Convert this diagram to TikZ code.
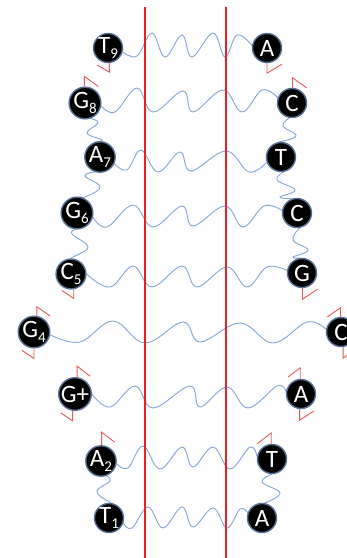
\documentclass[tikz,border=0pt]{standalone}
\usepackage{fontspec}
\setmainfont{Carlito}
\usetikzlibrary{backgrounds}
\definecolor{wavecol}{RGB}{130,165,212}
\definecolor{stubred}{RGB}{225,90,90}
\definecolor{axisred}{RGB}{240,30,30}
\definecolor{halo}{RGB}{85,110,145}
\newcommand{\nsub}[1]{{\fontsize{15}{15}\selectfont\raisebox{-5pt}{#1}}}
\tikzset{
  base/.style={circle, fill=black, draw=halo, line width=1.4pt, minimum size=29pt,
    inner sep=0pt, text=white, font=\fontsize{25}{25}\selectfont},
  wavy/.style={wavecol, line width=0.9pt},
  stub/.style={stubred, line width=0.9pt},
  axisline/.style={axisred, line width=1.6pt}
}
\begin{document}
\begin{tikzpicture}[x=1pt,y=-1pt]
\useasboundingbox (0,0) rectangle (347,558);
% left column
\node[base] (T9) at (108,48) {T\nsub{9}};
\node[base] (G8) at (85,103) {G\nsub{8}};
\node[base] (A7) at (100,157) {A\nsub{7}};
\node[base] (G6) at (77,213) {G\nsub{6}};
\node[base] (C5) at (71,274) {C\nsub{5}};
\node[base] (G4) at (34,332) {G\nsub{4}};
\node[base] (Gp) at (75,394) {G+};
\node[base] (A2) at (101,461) {A\nsub{2}};
\node[base] (T1) at (109,518) {T\nsub{1}};
% right column
\node[base] (rA9) at (267,48) {A};
\node[base] (rC8) at (292,103) {C};
\node[base] (rT7) at (281,157) {T};
\node[base] (rC6) at (297,213) {C};
\node[base] (rG5) at (302,273) {G};
\node[base] (rC4) at (341,332) {C};
\node[base] (rA3) at (301,394) {A};
\node[base] (rT2) at (272,459) {T};
\node[base] (rA1) at (262,518) {A};
\coordinate (ax1top) at (145,7);
\coordinate (ax1bot) at (145,558);
\coordinate (ax2top) at (226,7);
\coordinate (ax2bot) at (226,558);
\begin{scope}[on background layer]
% horizontal waves
\draw[wavy] plot[smooth, tension=0.65] coordinates {(T9.-15) (137,56) (152,33) (165,57) (182,35) (192,57) (213,33) (225,57) (237,35) (rA9.170)};
\draw[wavy] plot[smooth, tension=0.65] coordinates {(G8.-10) (115,112) (137,88) (153,112) (183,91) (193,112) (223,90) (242,112) (262,90) (rC8.160)};
\draw[wavy] plot[smooth, tension=0.65] coordinates {(A7.-25) (127,170) (141,150) (158,172) (180,152) (191,171) (226,151) (249,172) (rT7.200)};
\draw[wavy] plot[smooth, tension=0.65] coordinates {(G6.-15) (107,227) (133,205) (153,227) (182,206) (193,226) (225,206) (243,227) (264,206) (rC6.170)};
\draw[wavy] plot[smooth, tension=0.65] coordinates {(C5.0) (110,287) (133,266) (152,287) (182,266) (197,287) (227,267) (247,287) (267,267) (rG5.170)};
\draw[wavy] plot[smooth, tension=0.65] coordinates {(G4.-10) (80,342) (113,321) (145,343) (183,322) (200,342) (240,323) (273,343) (307,322) (rC4.170)};
\draw[wavy] plot[smooth, tension=0.65] coordinates {(Gp.0) (110,407) (135,386) (153,408) (190,386) (200,407) (227,387) (248,408) (277,386) (rA3.170)};
\draw[wavy] plot[smooth, tension=0.65] coordinates {(A2.-10) (128,468) (143,446) (160,469) (182,447) (193,467) (213,447) (230,469) (250,447) (rT2.170)};
\draw[wavy] plot[smooth, tension=0.65] coordinates {(T1.-20) (132,528) (148,507) (163,528) (182,507) (193,527) (213,508) (227,528) (240,509) (rA1.160)};
% vertical waves left
\draw[wavy] plot[smooth, tension=0.7] coordinates {(G8.-70) (98,123) (87,133) (102,140) (A7.110)};
\draw[wavy] plot[smooth, tension=0.7] coordinates {(A7.-110) (85,176) (100,187) (85,197) (G6.80)};
\draw[wavy] plot[smooth, tension=0.7] coordinates {(G6.-95) (72,234) (88,247) (73,257) (C5.90)};
\draw[wavy] plot[smooth, tension=0.7] coordinates {(A2.-70) (110,481) (97,492) (113,504) (T1.80)};
% vertical waves right
\draw[wavy] plot[smooth, tension=0.7] coordinates {(rC8.-100) (283,126) (296,136) (rT7.100)};
\draw[wavy] plot[smooth, tension=0.7] coordinates {(rT7.-80) (277,180) (295,190) (280,197) (rC6.110)};
\draw[wavy] plot[smooth, tension=0.7] coordinates {(rC6.-80) (293,240) (308,250) (293,257) (rG5.100)};
\draw[wavy] plot[smooth, tension=0.7] coordinates {(rT2.-90) (262,482) (280,493) (rA1.80)};
% red axes
\draw[axisline] (ax1top) -- (ax1bot);
\draw[axisline] (ax2top) -- (ax2bot);
\end{scope}
% red stubs
\draw[stub] (T9.-85) -- ++(0,9) -- ++(-12,-7);
\draw[stub] (rA9.-90) -- ++(0,10) -- ++(15,-9);
\draw[stub] (G8.92) -- ++(0,-10) -- ++(14,10);
\draw[stub] (rC8.88) -- ++(0,-10) -- ++(14,10);
\draw[stub] (C5.-80) -- ++(0,9) -- ++(-12,-8);
\draw[stub] (rG5.-88) -- ++(0,11) -- ++(15,-10);
\draw[stub] (G4.80) -- ++(0,-9) -- ++(13,9);
\draw[stub] (G4.-90) -- ++(0,10) -- ++(-12,-8);
\draw[stub] (rC4.92) -- ++(0,-9) -- ++(-13,9);
\draw[stub] (rC4.-82) -- ++(0,11) -- ++(12,-8);
\draw[stub] (Gp.83) -- ++(0,-11) -- ++(13,10);
\draw[stub] (Gp.-98) -- ++(0,10) -- ++(-12,-8);
\draw[stub] (rA3.93) -- ++(0,-11) -- ++(-12,9);
\draw[stub] (rA3.-95) -- ++(0,11) -- ++(14,-9);
\draw[stub] (A2.88) -- ++(0,-13) -- ++(13,10);
\draw[stub] (rT2.93) -- ++(0,-11) -- ++(-14,11);
\end{tikzpicture}
\end{document}
